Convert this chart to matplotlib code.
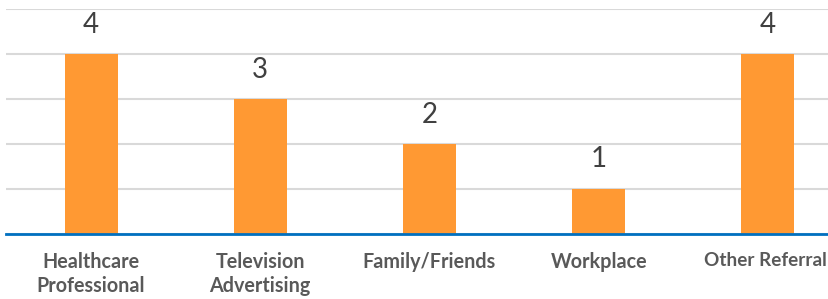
import matplotlib.pyplot as plt
import matplotlib.transforms as mtransforms
import numpy as np

categories = ['Healthcare\nProfessional', 'Television\nAdvertising', 'Family/Friends',
              'Workplace', 'Other Referral']
values = [4, 3, 2, 1, 4]

plt.rcParams['font.family'] = ['Lato', 'DejaVu Sans']

fig = plt.figure(figsize=(8.29, 2.99), dpi=100)
# axes runs off the right edge, as in the original
ax = fig.add_axes([6.4 / 829, 65.5 / 299, 846.2 / 829, 224.5 / 299])

x = np.arange(len(categories))
ax.bar(x, values, width=0.313, color='#FF9933', zorder=3)
for xi, v in zip(x, values):
    ax.text(xi, v + 0.36, str(v), ha='center', va='bottom', fontsize=20, color='#404040')

ax.set_xlim(-0.5, len(categories) - 0.5)
ax.set_ylim(0, 5)
ax.set_yticks(np.arange(0, 6, 1))
ax.yaxis.grid(True, color='#D9D9D9', linewidth=1.5, zorder=0)
ax.tick_params(axis='y', left=False, labelleft=False)
ax.tick_params(axis='x', length=0, pad=13)
ax.set_xticks(x)
ax.set_xticklabels(categories, fontsize=14.2, fontweight='bold', color='#595959',
                   linespacing=1.25, va='top')
# last label sits at the figure edge - squeeze it in a little
last = ax.get_xticklabels()[-1]
last.set_fontsize(13.6)
last.set_transform(last.get_transform() +
                   mtransforms.ScaledTranslation(-3 / 100, 0, fig.dpi_scale_trans))
for s in ['top', 'right', 'left']:
    ax.spines[s].set_visible(False)
ax.spines['bottom'].set_color('#0070C0')
ax.spines['bottom'].set_linewidth(2)
ax.spines['bottom'].set_zorder(4)

fig.savefig('out.png', dpi=100)
